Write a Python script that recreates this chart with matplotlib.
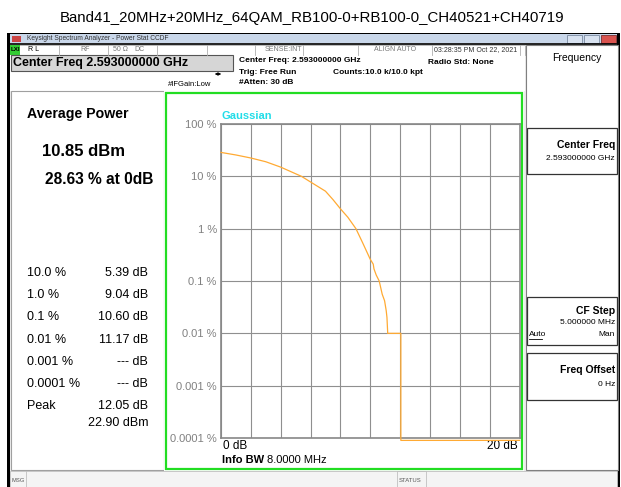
import matplotlib
matplotlib.use("Agg")
import matplotlib.pyplot as plt
from matplotlib.patches import Rectangle
from matplotlib import font_manager

plt.rcParams['font.family'] = ['Liberation Sans', 'DejaVu Sans']

# CCDF trace (dB above average power, % probability)
ccdf_db = [0, 1, 2, 3, 4, 5, 5.39, 6, 7, 7.5, 8, 8.5, 9.04, 9.5, 10.0, 10.2,
           10.25, 10.4, 10.6, 10.8, 10.96, 11.07, 11.12, 11.17, 12.05, 12.05, 20]
ccdf_pct = [28.63, 25.6, 22.4, 19.0, 15.0, 11.2, 10.0, 7.8, 5.2, 3.6, 2.4, 1.65, 1.0,
            0.53, 0.26, 0.21, 0.17, 0.13, 0.1, 0.056, 0.042, 0.027, 0.02, 0.01,
            0.01, 0.00009, 0.00009]

ytick_vals = [100, 10, 1, 0.1, 0.01, 0.001, 0.0001]
ytick_labels = ['100 %', '10 %', '1 %', '0.1 %', '0.01 %', '0.001 %', '0.0001 %']

stat_labels = ['10.0 %', '1.0 %', '0.1 %', '0.01 %', '0.001 %', '0.0001 %', 'Peak']
stat_values = ['5.39 dB', '9.04 dB', '10.60 dB', '11.17 dB', '--- dB', '--- dB', '12.05 dB']

title = 'Band41_20MHz+20MHz_64QAM_RB100-0+RB100-0_CH40521+CH40719'

W, H = 621, 487
fig = plt.figure(figsize=(W / 100, H / 100), dpi=100)
fig.patch.set_facecolor('white')

# background axes in screen pixels
bg = fig.add_axes([0, 0, 1, 1])
bg.set_xlim(0, W)
bg.set_ylim(H, 0)
bg.axis('off')

def box(x, y, w, h, fc='white', ec='none', lw=1.0, z=1):
    bg.add_patch(Rectangle((x, y), w, h, facecolor=fc, edgecolor=ec, linewidth=lw, zorder=z))

def txt(x, y, s, size=7, **kw):
    kw.setdefault('va', 'center')
    return bg.text(x, y, s, fontsize=size, zorder=5, **kw)

# page title - narrow font if there is one, otherwise shrink to fit width
try:
    font_manager.findfont('Liberation Sans Narrow', fallback_to_default=False)
    tfam = 'Liberation Sans Narrow'
except Exception:
    tfam = 'Liberation Sans'
t = txt(312, 18, title, 15, ha='center', family=tfam)
r = fig.canvas.get_renderer()
tw = t.get_window_extent(renderer=r).width
if tw > 505:
    t.set_fontsize(15 * 505 / tw)

# window frame
box(7, 33, 613, 454, fc='black')
box(10, 34, 607, 453, fc='#ececec')
box(10, 34, 607, 9, fc='#c9d7ea')
txt(27, 38.5, 'Keysight Spectrum Analyzer - Power Stat CCDF', 4.8, color='#333333')
box(12, 35.5, 9, 6, fc='#cc4444', z=2)
box(567, 35, 15, 8, fc='#d8e2f0', ec='#7a8aa0', lw=0.6, z=2)
box(584, 35, 15, 8, fc='#d8e2f0', ec='#7a8aa0', lw=0.6, z=2)
box(601, 35, 15, 8, fc='#d9534f', ec='#7a3030', lw=0.6, z=2)
bg.plot([10, 617], [44, 44], color='black', lw=1.2, zorder=3)

# status header row
box(10, 45, 515, 9.5, fc='white', ec='#b0b0b0', lw=0.6)
box(10, 45, 10, 9.5, fc='#33cc33', z=2)
txt(15, 49.8, 'LXI', 4.5, ha='center', weight='bold')
for xd in [59, 108, 157, 207, 255, 303, 358, 432, 520]:
    bg.plot([xd, xd], [45, 54.5], color='#b0b0b0', lw=0.6, zorder=3)
txt(28, 49.8, 'R L', 5)
txt(80, 49.8, 'RF', 5, color='#777777')
txt(113, 49.8, '50 \u03a9', 5, color='#777777')
txt(134, 49.8, 'DC', 5, color='#777777')
txt(283, 49.8, 'SENSE:INT', 5, ha='center', color='#777777')
txt(395, 49.8, 'ALIGN AUTO', 5, ha='center', color='#777777')
txt(434, 49.8, '03:28:35 PM Oct 22, 2021', 5, color='#333333')

# second row
box(10, 55, 515, 36, fc='white')
box(11, 55, 222, 15.5, fc='#d6d6d6', ec='#555555', lw=0.8, z=2)
txt(13, 63, 'Center Freq 2.593000000 GHz', 9, weight='bold')
txt(239, 61, 'Center Freq: 2.593000000 GHz', 6, weight='bold')
txt(239, 72, 'Trig: Free Run', 6, weight='bold')
txt(239, 83, '#Atten: 30 dB', 6, weight='bold')
txt(428, 62, 'Radio Std: None', 6, weight='bold')
txt(333, 72, 'Counts:10.0 k/10.0 kpt', 6, weight='bold')
txt(168, 84, '#IFGain:Low', 5.5)
bg.annotate('', xy=(224, 74), xytext=(212, 74),
            arrowprops=dict(arrowstyle='<|-|>', color='black', lw=0.6, mutation_scale=4))

# left results panel
box(11, 91, 153, 379, fc='white', ec='#a0a0a0', lw=0.8)
txt(27, 114, 'Average Power', 10.2, weight='bold')
txt(42, 151, '10.85 dBm', 12, weight='bold')
txt(45, 179, '28.63 % at 0dB', 11.2, weight='bold')
for i, (lab, val) in enumerate(zip(stat_labels, stat_values)):
    yy = 273 + i * 22.2
    txt(27, yy, lab, 9)
    txt(148, yy, val, 9, ha='right')
txt(148, 423, '22.90 dBm', 9, ha='right')

# graph frame
box(164, 91, 360, 380, fc='white')
box(166, 92.5, 355.5, 376.5, fc='white', ec='#22dd22', lw=1.6, z=2)
txt(222, 116, 'Gaussian', 8, weight='bold', color='#22dde8')
txt(223, 446, '0 dB', 8.5)
txt(518, 446, '20 dB', 8.5, ha='right')
txt(222, 460, 'Info BW', 8, weight='bold')
txt(267, 460, '8.0000 MHz', 8)

# right softkey panel
box(526, 45, 92, 425, fc='white', ec='#808080', lw=0.8)
txt(577, 58, 'Frequency', 7.5, ha='center')
for (y0, h0) in [(128, 46), (297, 48), (353, 47)]:
    box(527, y0, 90, h0, fc='white', ec='#333333', lw=0.9, z=2)
txt(615, 145, 'Center Freq', 7.5, ha='right', weight='bold')
txt(615, 159, '2.593000000 GHz', 6, ha='right')
txt(615, 311, 'CF Step', 7.5, ha='right', weight='bold')
txt(615, 323, '5.000000 MHz', 6, ha='right')
txt(529, 335, 'Auto', 6)
bg.plot([529, 542], [339, 339], color='black', lw=0.6, zorder=5)
txt(615, 335, 'Man', 6, ha='right')
txt(615, 370, 'Freq Offset', 7.5, ha='right', weight='bold')
txt(615, 385, '0 Hz', 6, ha='right')

# bottom status bar
box(10, 471, 607, 16, fc='#f4f4f4', ec='#c0c0c0', lw=0.6)
bg.plot([26, 26], [471, 487], color='#c0c0c0', lw=0.6, zorder=3)
bg.plot([397, 397, 426, 426], [487, 471, 471, 487], color='#c0c0c0', lw=0.6, zorder=3)
txt(12, 481, 'MSG', 4.2, color='#555555')
txt(399, 481, 'STATUS', 4.2, color='#555555')

# CCDF plot
ax = fig.add_axes([221 / W, 1 - 438 / H, 298.5 / W, 314 / H])
ax.set_facecolor('white')
ax.set_yscale('log')
ax.set_xlim(0, 20)
ax.set_ylim(0.0001, 100)
ax.set_xticks(range(0, 21, 2))
ax.set_xticklabels([])
ax.set_yticks(ytick_vals)
ax.set_yticklabels(ytick_labels)
ax.minorticks_off()
ax.tick_params(length=0, pad=3, labelsize=8, labelcolor='#808080')
ax.grid(True, color='#8f8f8f', lw=0.8)
for sp in ax.spines.values():
    sp.set_color('#888888')
    sp.set_linewidth(1.2)
ax.plot(ccdf_db, ccdf_pct, color='#ffaa33', lw=0.9, clip_on=False, zorder=3)

fig.savefig('out.png', dpi=100)
